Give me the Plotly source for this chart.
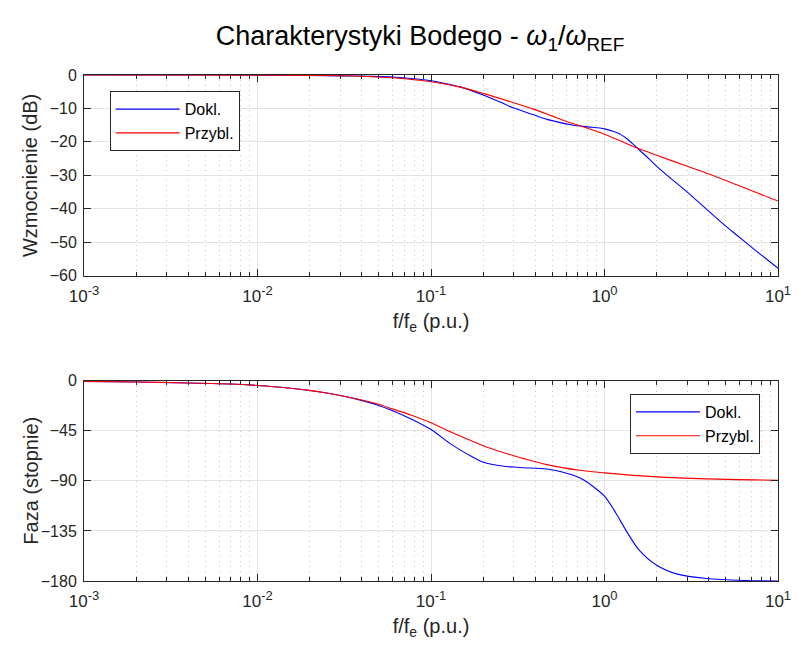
import plotly.graph_objects as go

# Frequency samples (f/fe, p.u.) and responses
f_mag_dokl = [0.001, 0.003, 0.01, 0.02, 0.03, 0.045, 0.06, 0.08, 0.1, 0.125, 0.15, 0.2, 0.25,
              0.3, 0.39, 0.485, 0.66, 0.8, 1.0, 1.21, 1.38, 1.57, 1.8, 2.0, 2.5, 3.0, 4.0, 5.0,
              5.8, 7.2, 10.0]
mag_dokl = [0.0, 0.0, -0.05, -0.15, -0.25, -0.4, -0.6, -1.1, -1.7, -2.7, -3.7, -6.0, -8.1,
            -9.9, -11.9, -13.5, -15.0, -15.5, -16.1, -17.5, -19.5, -22.2, -25.0, -27.3, -31.6,
            -35.0, -40.8, -45.2, -47.9, -51.9, -57.8]

f_mag_przybl = [0.001, 0.01, 0.02, 0.03, 0.05, 0.07, 0.1, 0.15, 0.2, 0.3, 0.39, 0.577, 1.0,
                1.57, 2.0, 3.0, 4.0, 5.83, 10.0]
mag_przybl = [0.0, -0.03, -0.1, -0.23, -0.6, -1.1, -2.0, -3.7, -5.5, -8.3, -10.2, -13.5, -17.7,
              -22.0, -24.0, -27.3, -29.6, -32.9, -37.7]

f_ph_dokl = [0.001, 0.002, 0.004, 0.007, 0.01, 0.015, 0.02, 0.025, 0.03, 0.0387, 0.05, 0.0597,
             0.0773, 0.1, 0.131, 0.163, 0.2, 0.263, 0.3, 0.342, 0.464, 0.577, 0.718, 0.855, 1.0,
             1.16, 1.32, 1.57, 2.0, 2.63, 3.89, 6.4, 10.0]
ph_dokl = [-0.6, -1.1, -2.1, -3.0, -4.3, -6.5, -8.8, -11.0, -13.2, -17.2, -22.2, -26.8,
           -34.6, -43.8, -57.2, -66.2, -73.2, -76.9, -77.6, -78.2, -79.4, -82.3, -87.3, -94.8,
           -103.8, -118.6, -133.6, -151.5, -165.8, -173.8, -177.7, -179.5, -180.0]

f_ph_przybl = [0.001, 0.002, 0.004, 0.007, 0.01, 0.015, 0.02, 0.025, 0.0387, 0.05, 0.0597,
               0.0773, 0.1, 0.131, 0.163, 0.2, 0.263, 0.3, 0.342, 0.464, 0.718, 1.0, 2.0, 3.9, 10.0]
ph_przybl = [-0.6, -1.1, -2.0, -3.0, -4.3, -6.5, -8.7, -11.0, -16.8, -21.2, -25.3,
             -31.0, -37.8, -46.4, -52.6, -58.4, -64.7, -67.4, -70.0, -75.4, -80.5, -82.8,
             -86.4, -88.2, -89.4]

series_names = ["Dokl.", "Przybl."]
series_colors = ["#0000ff", "#ff0000"]

decades = [-3, -2, -1, 0, 1]
x_tickvals = [10.0 ** d for d in decades]
x_ticktext = [f"10<sup><span style='font-size:13px'>{d}</span></sup>" for d in decades]
x_minor = [m * 10.0 ** d for d in decades[:-1] for m in range(2, 10)]

mag_ticks = [-60, -50, -40, -30, -20, -10, 0]
ph_ticks = [-180, -135, -90, -45, 0]

y_titles = ["Wzmocnienie (dB)", "Faza (stopnie)"]
mag_domain = [0.6034, 1.0]
ph_domain = [0.0, 0.3958]

FONT = "Liberation Sans, Arial, sans-serif"
AX = "#262626"

fig = go.Figure()

line_shape = dict(width=1.1, shape="spline", smoothing=0.8)

fig.add_trace(go.Scatter(x=f_mag_dokl, y=mag_dokl, name=series_names[0], mode="lines",
                         line=dict(color=series_colors[0], **line_shape),
                         xaxis="x", yaxis="y", legend="legend"))
fig.add_trace(go.Scatter(x=f_mag_przybl, y=mag_przybl, name=series_names[1], mode="lines",
                         line=dict(color=series_colors[1], **line_shape),
                         xaxis="x", yaxis="y", legend="legend"))
fig.add_trace(go.Scatter(x=f_ph_dokl, y=ph_dokl, name=series_names[0], mode="lines",
                         line=dict(color=series_colors[0], **line_shape),
                         xaxis="x2", yaxis="y2", legend="legend2"))
fig.add_trace(go.Scatter(x=f_ph_przybl, y=ph_przybl, name=series_names[1], mode="lines",
                         line=dict(color=series_colors[1], **line_shape),
                         xaxis="x2", yaxis="y2", legend="legend2"))


def xaxis_cfg(anchor):
    return dict(
        type="log", range=[-3, 1], anchor=anchor, domain=[0, 1],
        tickvals=x_tickvals, ticktext=x_ticktext,
        ticks="inside", ticklen=7, tickcolor=AX, tickwidth=1,
        showline=True, linecolor=AX, linewidth=1, mirror="ticks",
        showgrid=True, gridcolor="#e3e3e3", gridwidth=1,
        zeroline=False, ticklabelstandoff=5,
        tickfont=dict(family=FONT, size=17, color=AX),
        title=dict(text="f/f<sub>e</sub> (p.u.)", font=dict(family=FONT, size=20, color=AX),
                   standoff=8),
        minor=dict(tickvals=x_minor, ticks="inside", ticklen=4, tickwidth=1, tickcolor=AX,
                   showgrid=True, gridcolor="#c4c4c4", griddash="1px,4px", gridwidth=1),
    )


def yaxis_cfg(anchor, domain, rng, ticks):
    return dict(
        anchor=anchor, domain=domain, range=rng, tickvals=ticks,
        ticks="inside", ticklen=7, tickcolor=AX, tickwidth=1,
        showline=True, linecolor=AX, linewidth=1, mirror="ticks",
        showgrid=True, gridcolor="#e3e3e3", gridwidth=1, zeroline=False,
        ticklabelstandoff=3,
        tickfont=dict(family=FONT, size=16, color=AX),
    )


# y-axis titles placed at a common left offset for both panels
y_title_annotations = [
    dict(text=t, textangle=-90, xref="paper", yref="paper",
         x=-0.0767, y=(d[0] + d[1]) / 2, xanchor="center", yanchor="middle",
         showarrow=False, font=dict(family=FONT, size=20, color=AX))
    for t, d in zip(y_titles, [mag_domain, ph_domain])
]

fig.update_layout(
    width=803, height=652,
    margin=dict(l=84, r=15, t=75, b=71),
    paper_bgcolor="white", plot_bgcolor="white",
    font=dict(family=FONT, color=AX),
    title=dict(text="Charakterystyki Bodego - <i>ω</i><sub>1</sub>/<i>ω</i><sub>REF</sub>",
               x=0.523, xref="container", xanchor="center",
               y=0.945, yref="container", yanchor="middle",
               font=dict(family=FONT, size=27, color="black")),
    xaxis=xaxis_cfg("y"),
    yaxis=yaxis_cfg("x", mag_domain, [-60, 0], mag_ticks),
    xaxis2=xaxis_cfg("y2"),
    yaxis2=yaxis_cfg("x2", ph_domain, [-180, 0], ph_ticks),
    annotations=y_title_annotations,
    legend=dict(x=0.037, y=0.968, xref="paper", yref="paper", xanchor="left", yanchor="top",
                bgcolor="white", bordercolor=AX, borderwidth=1,
                font=dict(family=FONT, size=16, color="black"), itemwidth=64,
                tracegroupgap=0),
    legend2=dict(x=0.974, y=0.3696, xref="paper", yref="paper", xanchor="right", yanchor="top",
                 bgcolor="white", bordercolor=AX, borderwidth=1,
                 font=dict(family=FONT, size=16, color="black"), itemwidth=64,
                 tracegroupgap=0),
    showlegend=True,
)

fig.write_html("out.html")
